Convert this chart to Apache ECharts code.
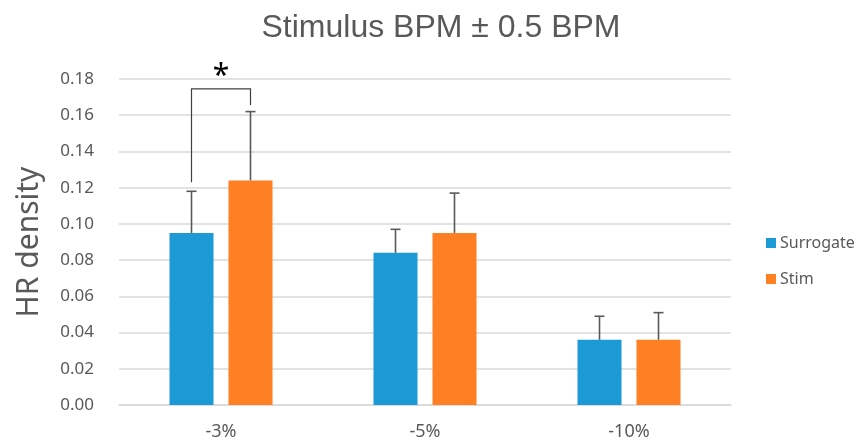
<!DOCTYPE html>
<html>
<head>
<meta charset="utf-8">
<script src="https://cdn.jsdelivr.net/npm/echarts@6/dist/echarts.min.js"></script>
<style>
  html, body { margin: 0; padding: 0; background: #fff; }
  #chart { width: 858px; height: 441px; }
</style>
</head>
<body>
<div id="chart"></div>
<script>
const categories = ["-3%", "-5%", "-10%"];
const surrogate = [0.095, 0.084, 0.036];
const stim = [0.124, 0.095, 0.036];
// 误差线（只画正方向）
const surrogateErr = [0.023, 0.013, 0.013];
const stimErr = [0.038, 0.022, 0.015];
// 显著性括号: 类别, 横线高度, 左端, 右端
const sigCategory = 0;
const sigLevels = [0.1745, 0.123, 0.1657];
const yTicks = { min: 0, max: 0.18, interval: 0.02 };

const BAR_W = 44;
const BAR_GAP = 15;
const textColor = "#595959";
const fontFamily = "'Noto Sans', 'Liberation Sans', sans-serif";

let myChart = echarts.init(document.getElementById("chart"));

const halfStep = (BAR_W + BAR_GAP) / 2;

const errorSeries = (name, vals, errs, offset) => ({
  type: "custom",
  name: name + "_err",
  silent: true,
  z: 5,
  data: vals.map((v, i) => [i, v, errs[i]]),
  encode: { x: 0, y: 1 },
  renderItem: (params, api) => {
    const x = api.coord([api.value(0), 0])[0] + offset;
    const yBase = api.coord([api.value(0), api.value(1)])[1];
    const yTop = api.coord([api.value(0), api.value(1) + api.value(2)])[1];
    const style = { stroke: "#595959", lineWidth: 1.6 };
    return {
      type: "group",
      children: [
        { type: "line", shape: { x1: x, y1: yBase, x2: x, y2: yTop }, style },
        { type: "line", shape: { x1: x - 5, y1: yTop, x2: x + 5, y2: yTop }, style },
      ],
    };
  },
});

const option = {
  animation: false,
  title: {
    text: "Stimulus BPM ± 0.5 BPM",
    left: 436,
    textAlign: "center",
    top: 7,
    textStyle: { color: textColor, fontSize: 32, fontWeight: "normal", fontFamily: "'Liberation Sans', Arial, sans-serif" },
  },
  legend: {
    data: ["Surrogate", "Stim"],
    orient: "vertical",
    left: 761,
    top: 229,
    icon: "rect",
    itemWidth: 10,
    itemHeight: 10,
    itemGap: 18,
    textStyle: { color: textColor, fontSize: 16, lineHeight: 18, fontFamily, padding: [0, 0, 0, -1] },
  },
  grid: { left: 119, right: 127, top: 79, bottom: 34 },
  xAxis: {
    type: "category",
    data: categories,
    axisLine: { lineStyle: { color: "#d9d9d9", width: 1.5 } },
    axisTick: { show: false },
    axisLabel: { color: textColor, fontSize: 18, margin: 18, fontFamily },
  },
  yAxis: {
    type: "value",
    min: yTicks.min,
    max: yTicks.max,
    interval: yTicks.interval,
    name: "HR density",
    nameLocation: "middle",
    nameGap: 75,
    nameTextStyle: { color: textColor, fontSize: 30, fontFamily },
    axisLine: { show: false },
    axisTick: { show: false },
    axisLabel: {
      color: textColor,
      fontSize: 17,
      margin: 25,
      fontFamily,
      formatter: (v) => v.toFixed(2),
    },
    splitLine: { lineStyle: { color: "#d9d9d9", width: 1.5 } },
  },
  series: [
    {
      name: "Surrogate",
      type: "bar",
      barWidth: BAR_W,
      barGap: (BAR_GAP / BAR_W * 100) + "%",
      itemStyle: { color: "#1B9AD6" },
      data: surrogate,
    },
    {
      name: "Stim",
      type: "bar",
      barWidth: BAR_W,
      itemStyle: { color: "#FF7F22" },
      data: stim,
    },
    errorSeries("Surrogate", surrogate, surrogateErr, -halfStep),
    errorSeries("Stim", stim, stimErr, halfStep),
    {
      type: "custom",
      name: "sig",
      silent: true,
      z: 6,
      data: [[sigCategory, sigLevels[0], sigLevels[1], sigLevels[2]]],
      encode: { x: 0, y: 1 },
      renderItem: (params, api) => {
        const cx = api.coord([api.value(0), 0])[0];
        const yH = api.coord([api.value(0), api.value(1)])[1];
        const yL = api.coord([api.value(0), api.value(2)])[1];
        const yR = api.coord([api.value(0), api.value(3)])[1];
        const xl = cx - halfStep;
        const xr = cx + halfStep;
        return {
          type: "group",
          children: [
            {
              type: "polyline",
              shape: { points: [[xl, yL], [xl, yH], [xr, yH], [xr, yR]] },
              style: { stroke: "#404040", lineWidth: 1.2, fill: null },
            },
            {
              type: "text",
              style: {
                text: "*",
                x: cx,
                y: yH + 2,
                align: "center",
                verticalAlign: "bottom",
                fontSize: 30,
                fill: "#000",
                fontFamily,
              },
            },
          ],
        };
      },
    },
  ],
};

myChart.setOption(option);
</script>
</body>
</html>
